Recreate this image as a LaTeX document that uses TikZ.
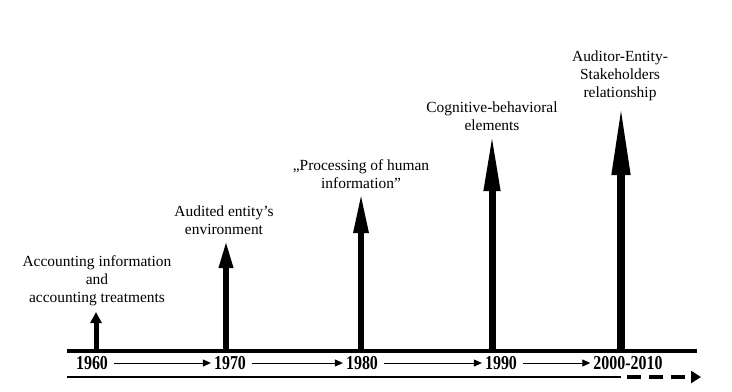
\documentclass[tikz,border=0pt]{standalone}
\usepackage{fontspec}
\setmainfont{Liberation Serif}
\usetikzlibrary{arrows.meta}
\newcommand{\tallyr}[1]{\scalebox{0.97}[1.2]{#1}}
\tikzset{
	lbl/.style={align=center,inner sep=0pt,anchor=south,font=\fontsize{15.5}{18}\selectfont},
	yr/.style={inner sep=0pt,font=\fontsize{16.5}{17}\selectfont\bfseries},
	yrarrow/.style={-{Triangle[length=8bp,width=7bp]},line width=0.9bp,shorten <=6bp,shorten >=3bp}
}
\begin{document}
\begin{tikzpicture}[x=1bp,y=-1bp]
			\useasboundingbox (0,0) rectangle (732,391);
			\coordinate (axl) at (67,351);
			\coordinate (axr) at (697,351);
			\coordinate (ll) at (67,377);
			\coordinate (lm) at (621,377);
			\coordinate (ld) at (627,377);
			\coordinate (lr) at (701,377);
			\coordinate (b60) at (96,351);
			\coordinate (b70) at (226,351);
			\coordinate (b80) at (361,351);
			\coordinate (b90) at (492,351);
			\coordinate (b00) at (621,351);
			\node[yr] (y60) at (92,363) {\tallyr{1960}};
			\node[yr] (y70) at (230,363) {\tallyr{1970}};
			\node[yr] (y80) at (362,363) {\tallyr{1980}};
			\node[yr] (y90) at (501,363) {\tallyr{1990}};
			\node[yr] (y00) at (628,363) {\tallyr{2000-2010}};
			\node[lbl] (l60) at (97,306) {Accounting information\\and\\accounting treatments};
			\node[lbl] (l70) at (224,235) {Audited entity’s\\environment};
			\node[lbl] (l80) at (361,189) {„Processing of human\\information”};
			\node[lbl] (l90) at (492,131) {Cognitive-behavioral\\elements};
			\node[lbl] (l00) at (620,101) {Auditor-Entity-\\Stakeholders\\relationship};
			\draw[line width=4bp] (axl) -- (axr);
			\draw[line width=2bp] (ll) -- (lm);
			\draw[line width=4bp,dash pattern=on 14bp off 8bp,-{Triangle[length=10bp,width=12bp]}] (ld) -- (lr);
			\draw[yrarrow] (y60) -- (y70);
			\draw[yrarrow] (y70) -- (y80);
			\draw[yrarrow] (y80) -- (y90);
			\draw[yrarrow] (y90) -- (y00);
			\draw[line width=5bp,-{Triangle[length=11bp,width=11bp]},shorten >=6bp] (b60) -- (b60 |- l60.south);
			\draw[line width=6bp,-{Triangle[length=28bp,width=13bp]},shorten >=5bp] (b70) -- (b70 |- l70.south);
			\draw[line width=6bp,-{Triangle[length=40bp,width=14bp]},shorten >=4bp] (b80) -- (b80 |- l80.south);
			\draw[line width=7bp,-{Triangle[length=58bp,width=15bp]},shorten >=2bp] (b90) -- (b90 |- l90.south);
			\draw[line width=7.5bp,-{Triangle[length=70bp,width=17bp]},shorten >=4bp] (b00) -- (b00 |- l00.south);
\end{tikzpicture}
\end{document}
